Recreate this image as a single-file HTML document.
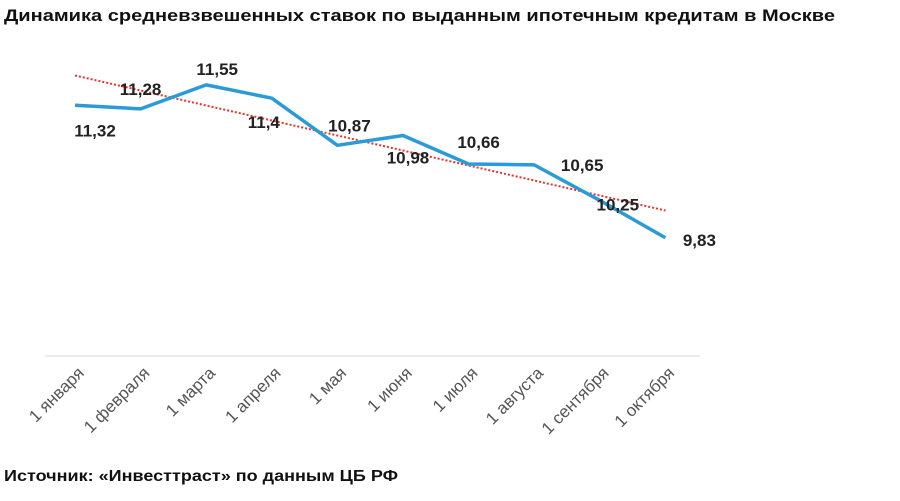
<!DOCTYPE html>
<html><head><meta charset="utf-8"><style>
body{margin:0;background:#fff;width:900px;height:496px;overflow:hidden;font-family:"Liberation Sans",sans-serif}
</style></head><body>
<svg width="900" height="496">
<text x="4" y="21" font-size="17" font-weight="bold" fill="#111" textLength="831" lengthAdjust="spacingAndGlyphs">Динамика средневзвешенных ставок по выданным ипотечным кредитам в Москве</text>
<line x1="45" y1="356" x2="700" y2="356" stroke="#d9d9d9" stroke-width="1"/>
<g id="plot"></g>
<text x="4" y="481" font-size="16" font-weight="bold" fill="#111" textLength="394" lengthAdjust="spacingAndGlyphs">Источник: «Инвесттраст» по данным ЦБ РФ</text>
</svg>
<script>
const categories=["1 января","1 февраля","1 марта","1 апреля","1 мая","1 июня","1 июля","1 августа","1 сентября","1 октября"];
const values=[11.32,11.28,11.55,11.4,10.87,10.98,10.66,10.65,10.25,9.83];
const valueLabels=["11,32","11,28","11,55","11,4","10,87","10,98","10,66","10,65","10,25","9,83"];
const labelDx=[20,0,11,-8,12,5,10,48,18,34];
const labelDy=[31,-14,-10,30,-14,28,-16,6,10,8];
const NS="http://www.w3.org/2000/svg";
const g=document.getElementById('plot');
function x(i){return 75+i*65.6;}
function y(v){return 356-(v-8.5)*88.9;}
const n=values.length;const mx=(n-1)/2;const my=values.reduce((a,b)=>a+b,0)/n;
let sxy=0,sxx=0;values.forEach((v,i)=>{sxy+=(i-mx)*(v-my);sxx+=(i-mx)*(i-mx);});
const sl=sxy/sxx;const b0=my-sl*mx;
const tr=document.createElementNS(NS,'line');


tr.setAttribute('x1',x(0));tr.setAttribute('y1',y(b0)-3);
tr.setAttribute('x2',x(n-1));tr.setAttribute('y2',y(b0+sl*(n-1)));
tr.setAttribute('stroke','#e8332e');tr.setAttribute('stroke-width','2');tr.setAttribute('stroke-dasharray','2 2');
g.appendChild(tr);
const pl=document.createElementNS(NS,'polyline');


pl.setAttribute('points',values.map((v,i)=>x(i)+','+y(v)).join(' '));
pl.setAttribute('fill','none');pl.setAttribute('stroke','#2b9bd8');pl.setAttribute('stroke-width','3.5');pl.setAttribute('stroke-linejoin','round');
g.appendChild(pl);
values.forEach((v,i)=>{
 const t=document.createElementNS(NS,'text');
 
 
 t.setAttribute('x',x(i)+labelDx[i]);t.setAttribute('y',y(v)+labelDy[i]);
 t.setAttribute('text-anchor','middle');t.setAttribute('font-size','17');t.setAttribute('font-weight','bold');t.setAttribute('fill','#222');
 t.textContent=valueLabels[i];g.appendChild(t);
 const c=document.createElementNS(NS,'text');
 
 
 c.setAttribute('x',x(i)+10);c.setAttribute('y',374);
 c.setAttribute('text-anchor','end');c.setAttribute('font-size','17');c.setAttribute('fill','#555');
 c.setAttribute('transform','rotate(-45 '+(x(i)+10)+' 374)');
 c.textContent=categories[i];g.appendChild(c);
});
</script>
</body></html>
